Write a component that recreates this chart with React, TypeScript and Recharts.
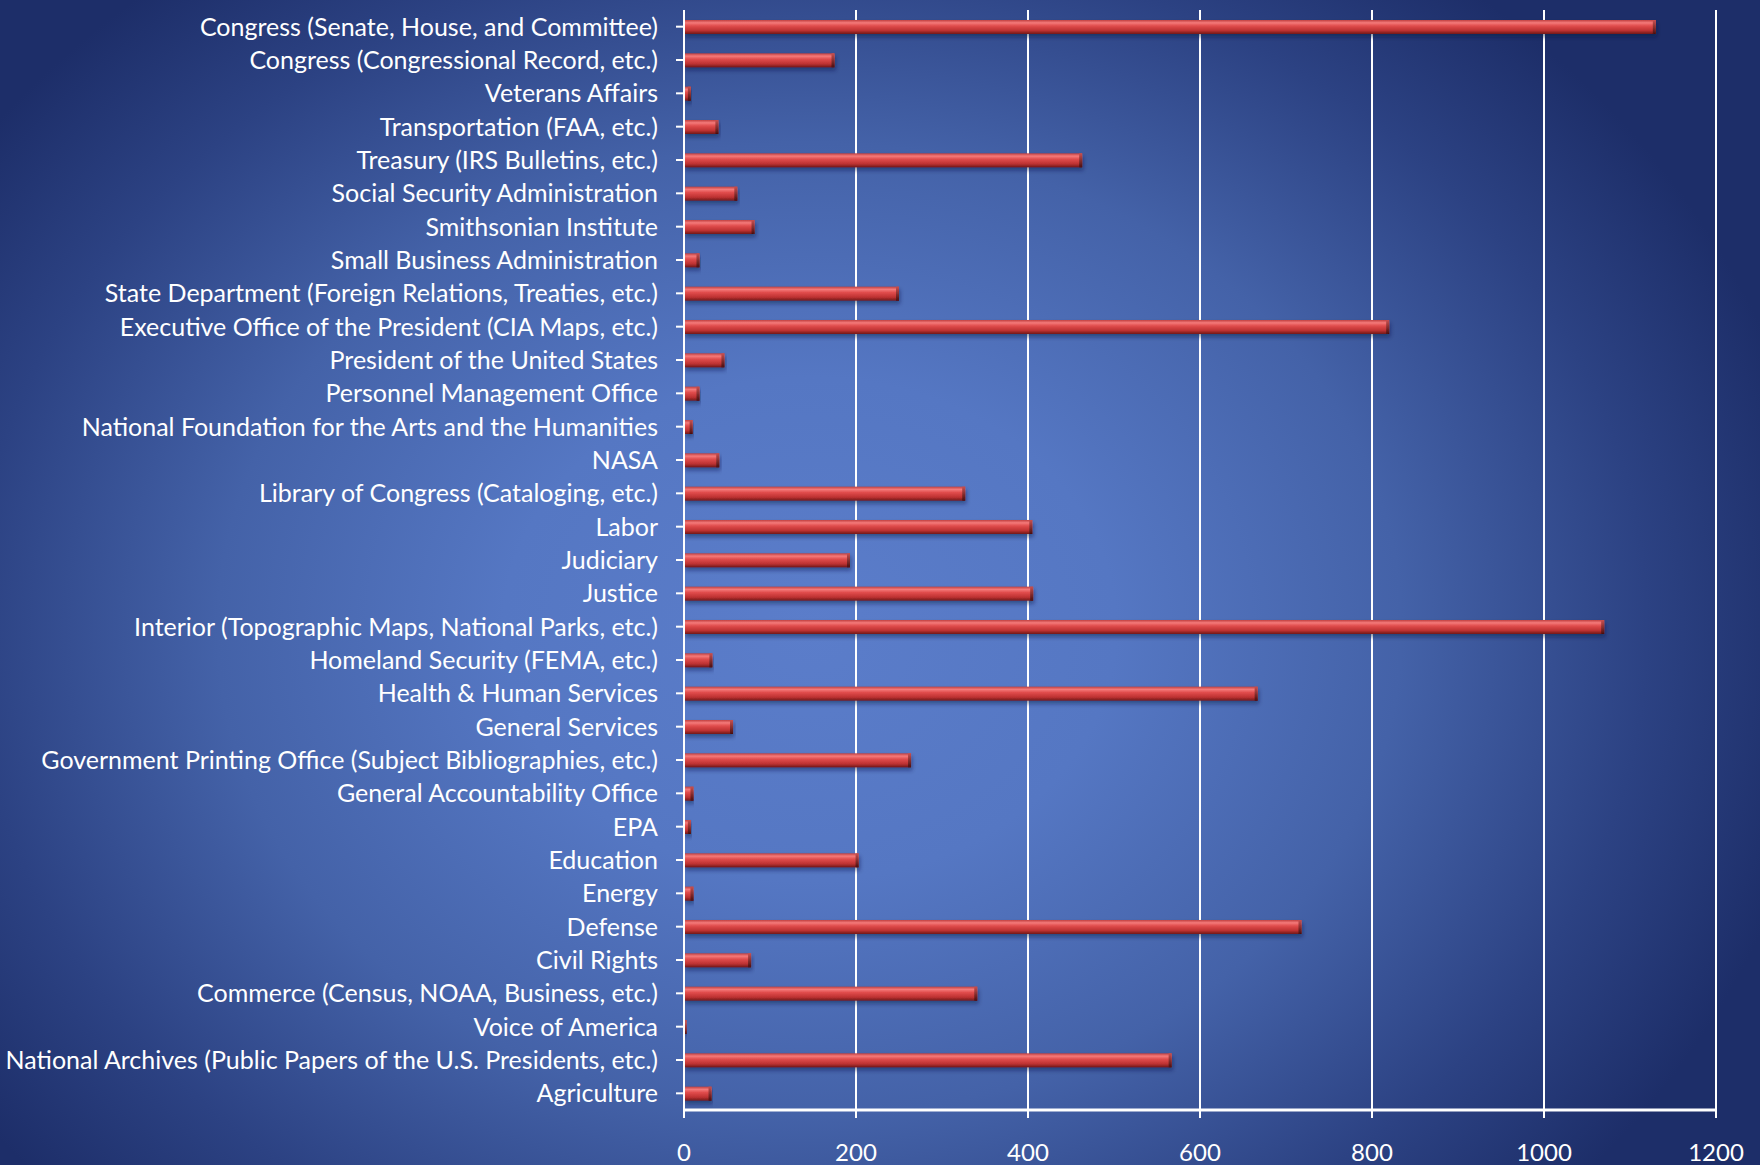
import { BarChart, Bar, XAxis, YAxis, CartesianGrid } from 'recharts';

const AGENCIES = [
  'Congress (Senate, House, and Committee)',
  'Congress (Congressional Record, etc.)',
  'Veterans Affairs',
  'Transportation (FAA, etc.)',
  'Treasury (IRS Bulletins, etc.)',
  'Social Security Administration',
  'Smithsonian Institute',
  'Small Business Administration',
  'State Department (Foreign Relations, Treaties, etc.)',
  'Executive Office of the President (CIA Maps, etc.)',
  'President of the United States',
  'Personnel Management Office',
  'National Foundation for the Arts and the Humanities',
  'NASA',
  'Library of Congress (Cataloging, etc.)',
  'Labor',
  'Judiciary',
  'Justice',
  'Interior (Topographic Maps, National Parks, etc.)',
  'Homeland Security (FEMA, etc.)',
  'Health & Human Services',
  'General Services',
  'Government Printing Office (Subject Bibliographies, etc.)',
  'General Accountability Office',
  'EPA',
  'Education',
  'Energy',
  'Defense',
  'Civil Rights',
  'Commerce (Census, NOAA, Business, etc.)',
  'Voice of America',
  'National Archives (Public Papers of the U.S. Presidents, etc.)',
  'Agriculture',
];

const COUNTS = [
  1130, 175, 8, 40, 463, 62, 82, 18, 250, 820, 47, 18, 10, 41, 327, 405, 193,
  406, 1070, 33, 667, 57, 264, 11, 8, 203, 11, 718, 78, 341, 3, 567, 32,
];

const X_TICKS = [0, 200, 400, 600, 800, 1000, 1200];

const FONT = 'Lato, "Open Sans", sans-serif';

// cylinder-ish bar with a darker end cap
function TubeBar(props: any) {
  const { x, y, width, height } = props;
  if (!width || width <= 0) return null;
  const cap = Math.min(3, width / 2);
  return (
    <g filter="url(#barShadow)">
      <rect x={x} y={y} width={width} height={height} fill="url(#barGrad)" />
      <rect x={x + width - cap} y={y} width={cap} height={height} fill="url(#capGrad)" />
    </g>
  );
}

export default function App() {
  const data = AGENCIES.map((name, i) => ({ name, value: COUNTS[i] }));

  return (
    <div
      style={{
        position: 'absolute',
        left: 0,
        top: 0,
        width: 1760,
        height: 1165,
        background:
          'radial-gradient(ellipse 58% 72% at 46% 54%, #5b7dca 0%, #5577c3 30%, #4462a8 58%, #2c4283 82%, #1d2e69 100%)',
      }}
    >
      <BarChart
        width={1760}
        height={1165}
        data={data}
        layout="vertical"
        margin={{ top: 10, right: 44, bottom: 0, left: 0 }}
        barCategoryGap={0}
      >
        <defs>
          <linearGradient id="barGrad" x1="0" y1="0" x2="0" y2="1">
            <stop offset="0%" stopColor="#c04040" />
            <stop offset="20%" stopColor="#f47a7a" />
            <stop offset="42%" stopColor="#e04c4c" />
            <stop offset="75%" stopColor="#bd3232" />
            <stop offset="100%" stopColor="#701818" />
          </linearGradient>
          <linearGradient id="capGrad" x1="0" y1="0" x2="0" y2="1">
            <stop offset="0%" stopColor="#c85050" />
            <stop offset="100%" stopColor="#4a0f0f" />
          </linearGradient>
          <filter id="barShadow" x="-5%" y="-50%" width="110%" height="250%">
            <feDropShadow dx="1" dy="3" stdDeviation="2" floodColor="#0a1540" floodOpacity="0.45" />
          </filter>
        </defs>
        <CartesianGrid vertical horizontal={false} stroke="#ffffff" strokeWidth={2} />
        <XAxis
          type="number"
          domain={[0, 1200]}
          ticks={X_TICKS}
          interval={0}
          height={55}
          axisLine={{ stroke: '#ffffff', strokeWidth: 3 }}
          tickLine={{ stroke: '#ffffff', strokeWidth: 2 }}
          tickSize={8}
          tickMargin={26}
          tick={{ fill: '#ffffff', fontSize: 24, fontFamily: FONT }}
        />
        <YAxis
          type="category"
          dataKey="name"
          width={684}
          interval={0}
          axisLine={{ stroke: '#ffffff', strokeWidth: 2 }}
          tickLine={{ stroke: '#ffffff', strokeWidth: 2 }}
          tickSize={8}
          tickMargin={18}
          tick={{ fill: '#ffffff', fontSize: 25, fontFamily: FONT }}
        />
        <Bar dataKey="value" barSize={14} shape={<TubeBar />} isAnimationActive={false} />
      </BarChart>
    </div>
  );
}
